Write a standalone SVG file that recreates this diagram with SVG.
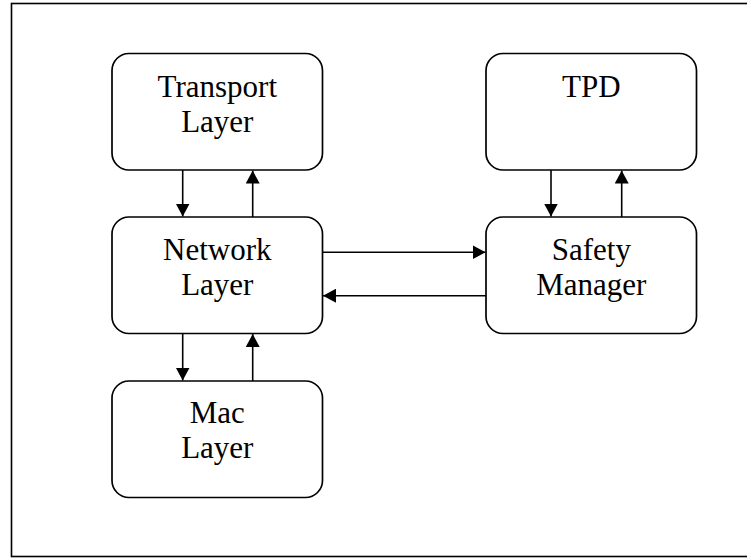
<svg xmlns="http://www.w3.org/2000/svg" width="747" height="559" viewBox="0 0 747 559">
<style>
.box{fill:#fff;stroke:#000;stroke-width:1.7}
.t{font-family:"Liberation Serif","Times New Roman",serif;font-size:31px;fill:#000;text-anchor:middle}
.c{stroke:#000;stroke-width:1.6;fill:none}
</style>
<defs>
<marker id="ah" viewBox="0 0 13 14" refX="13" refY="7" markerWidth="13" markerHeight="14" markerUnits="userSpaceOnUse" orient="auto">
<path d="M0,0 L13,7 L0,14 Z" fill="#000"/>
</marker>
</defs>
<rect x="0" y="0" width="747" height="559" fill="#fff"/>
<rect id="frame" x="11.5" y="3.5" width="745" height="553" fill="none" stroke="#000" stroke-width="1.6"/>
<g id="transport">
<rect class="box" x="112" y="53.5" width="210.5" height="116.5" rx="17"/>
<text class="t" x="217.3" y="97">Transport</text>
<text class="t" x="217.3" y="132">Layer</text>
</g>
<g id="network">
<rect class="box" x="112" y="217" width="210.5" height="116.5" rx="17"/>
<text class="t" x="217.3" y="260">Network</text>
<text class="t" x="217.3" y="295">Layer</text>
</g>
<g id="mac">
<rect class="box" x="112" y="381" width="210.5" height="116.5" rx="17"/>
<text class="t" x="217.3" y="423">Mac</text>
<text class="t" x="217.3" y="458">Layer</text>
</g>
<g id="tpd">
<rect class="box" x="486" y="53.5" width="210.5" height="116.5" rx="17"/>
<text class="t" x="591.3" y="97">TPD</text>
</g>
<g id="safety">
<rect class="box" x="486" y="217" width="210.5" height="116.5" rx="17"/>
<text class="t" x="591.3" y="260">Safety</text>
<text class="t" x="591.3" y="295">Manager</text>
</g>
<g id="connectors">
<line class="c" x1="182.7" y1="170" x2="182.7" y2="216.5" marker-end="url(#ah)"/>
<line class="c" x1="252.7" y1="217" x2="252.7" y2="170.5" marker-end="url(#ah)"/>
<line class="c" x1="182.7" y1="333.5" x2="182.7" y2="380.5" marker-end="url(#ah)"/>
<line class="c" x1="252.7" y1="381" x2="252.7" y2="334" marker-end="url(#ah)"/>
<line class="c" x1="551" y1="170" x2="551" y2="216.5" marker-end="url(#ah)"/>
<line class="c" x1="621.7" y1="217" x2="621.7" y2="170.5" marker-end="url(#ah)"/>
<line class="c" x1="322.5" y1="252.3" x2="485.5" y2="252.3" marker-end="url(#ah)"/>
<line class="c" x1="486" y1="295.7" x2="323" y2="295.7" marker-end="url(#ah)"/>
</g>
</svg>
